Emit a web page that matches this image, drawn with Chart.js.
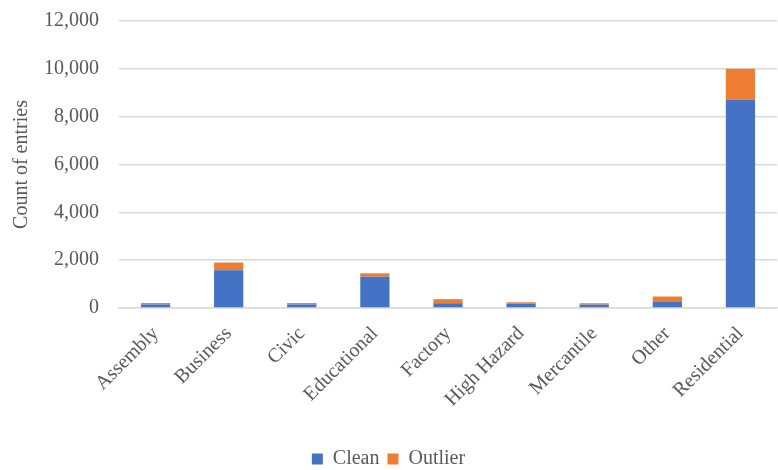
<!DOCTYPE html>
<html>
<head>
<meta charset="utf-8">
<script src="https://cdn.jsdelivr.net/npm/chart.js@4"></script>
<style>
  html, body { margin: 0; padding: 0; background: #fff; }
  .wrap { width: 778px; height: 470px; }
</style>
</head>
<body>
<div class="wrap"><canvas id="chart" width="778" height="470"></canvas></div>
<script>
const categories = ['Assembly', 'Business', 'Civic', 'Educational', 'Factory', 'High Hazard', 'Mercantile', 'Other', 'Residential'];
const cleanCounts = [150, 1580, 150, 1310, 200, 180, 140, 250, 8700];
const outlierCounts = [60, 320, 60, 140, 170, 60, 60, 230, 1300];
const yTicks = [0, 2000, 4000, 6000, 8000, 10000, 12000];

const font = { family: "'Liberation Serif', 'DejaVu Serif', serif", size: 20 };

const ctx = document.getElementById('chart').getContext('2d');
const myChart = new Chart(ctx, {
    type: 'bar',
    data: {
        labels: categories,
        datasets: [{
            label: 'Clean',
            data: cleanCounts,
            backgroundColor: '#4472c4',
            categoryPercentage: 0.8,
            barPercentage: 0.5
        }, {
            label: 'Outlier',
            data: outlierCounts,
            backgroundColor: '#ed7d31',
            categoryPercentage: 0.8,
            barPercentage: 0.5
        }]
    },
    options: {
        responsive: false,
        animation: false,
        layout: { padding: { top: 21, right: 1, left: 0, bottom: -9 } },
        plugins: {
            legend: {
                position: 'bottom',
                labels: { font: font, color: '#595959', boxWidth: 11, boxHeight: 11, padding: 8 }
            },
            tooltip: { enabled: false }
        },
        scales: {
            x: {
                stacked: true,
                grid: { display: false },
                border: { color: '#d9d9d9', width: 1.5 },
                ticks: { font: font, color: '#595959', maxRotation: 45, minRotation: 45, padding: 6 },
                afterFit: (s) => { s.height = 133; }
            },
            y: {
                stacked: true,
                min: 0,
                max: 12000,
                afterBuildTicks: (s) => { s.ticks = yTicks.map(v => ({ value: v })); },
                grid: { color: '#d9d9d9', lineWidth: 1.5, drawTicks: false },
                border: { display: false },
                ticks: {
                    font: font, color: '#595959', padding: 20,
                    callback: (v) => v.toLocaleString('en-US')
                },
                title: { display: true, text: 'Count of entries', font: font, color: '#595959', padding: { top: 10, bottom: 0 } },
                afterFit: (s) => { s.width = 119; s.paddingTop = 0; }
            }
        }
    }
});
</script>
</body>
</html>
